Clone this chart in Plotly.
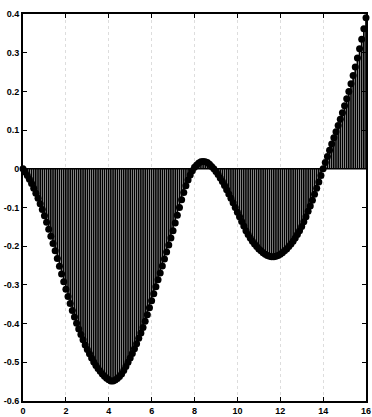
import numpy as np
import plotly.graph_objects as go

# sample positions (step 0.1 from 0 to 16)
x_vals = np.round(np.arange(161) * 0.1, 1)

# values
y_vals = [
    0.000, -0.008, -0.017, -0.027, -0.038, -0.050, -0.063, -0.076, -0.090, -0.105,
    -0.121, -0.138, -0.156, -0.174, -0.193, -0.212, -0.232, -0.252, -0.272, -0.292,
    -0.311, -0.330, -0.348, -0.366, -0.383, -0.399, -0.414, -0.428, -0.442, -0.455,
    -0.467, -0.478, -0.489, -0.499, -0.508, -0.516, -0.523, -0.530, -0.536, -0.541,
    -0.545, -0.548,
    -0.548, -0.546, -0.542, -0.537, -0.530, -0.521, -0.511, -0.500,
    -0.489, -0.477, -0.465, -0.452, -0.438, -0.424, -0.410, -0.394, -0.377, -0.359,
    -0.341, -0.323, -0.305, -0.287, -0.269, -0.251, -0.233, -0.215, -0.197, -0.179,
    -0.160, -0.140, -0.120, -0.100,
    -0.080, -0.061, -0.044, -0.029, -0.016, -0.005,
    0.004, 0.010, 0.015, 0.018, 0.019, 0.018, 0.016, 0.012, 0.006, 0.000,
    -0.007, -0.015, -0.024, -0.033, -0.043, -0.054, -0.065, -0.076, -0.088, -0.100,
    -0.112, -0.124, -0.136, -0.148, -0.160,
    -0.170, -0.179, -0.187, -0.194, -0.201,
    -0.207, -0.212, -0.217, -0.221, -0.224, -0.226, -0.227, -0.227, -0.226, -0.224,
    -0.221, -0.217, -0.212, -0.207, -0.201, -0.194, -0.187, -0.179, -0.170, -0.160,
    -0.149, -0.137, -0.124, -0.110, -0.096, -0.081, -0.066, -0.050, -0.034, -0.017,
    0.000, 0.016, 0.032, 0.048, 0.064, 0.080, 0.096, 0.112, 0.128, 0.145,
    0.163, 0.181, 0.200, 0.220, 0.241, 0.263, 0.286, 0.310, 0.335, 0.362,
    0.390,
]

x_ticks = [0, 2, 4, 6, 8, 10, 12, 14, 16]
x_tick_text = ["0", "2", "4", "6", "8", "10", "12", "14", "16"]
y_ticks = [0.4, 0.3, 0.2, 0.1, 0, -0.1, -0.2, -0.3, -0.4, -0.5, -0.6]
y_tick_text = ["0.4", "0.3", "0.2", "0.1", "0", "-0.1", "-0.2", "-0.3", "-0.4", "-0.5", "-0.6"]

# stems
sx, sy = [], []
for xv, yv in zip(x_vals, y_vals):
    sx += [xv, xv, None]
    sy += [0, yv, None]

fig = go.Figure()
fig.add_trace(go.Scatter(x=sx, y=sy, mode="lines",
                         line=dict(color="black", width=1.7), hoverinfo="skip"))
# baseline
fig.add_trace(go.Scatter(x=[x_vals[0], x_vals[-1]], y=[0, 0], mode="lines",
                         line=dict(color="black", width=1.5), hoverinfo="skip"))
# markers
fig.add_trace(go.Scatter(x=x_vals, y=y_vals, mode="markers",
                         marker=dict(color="black", size=7, line=dict(width=0)),
                         cliponaxis=False))

axis_common = dict(showline=True, linecolor="black", linewidth=2, mirror="ticks",
                   ticks="inside", ticklen=4, tickwidth=1, tickcolor="black",
                   zeroline=False, automargin=False,
                   tickfont=dict(family="Liberation Sans", size=9, color="black",
                                 weight="bold"))

fig.update_xaxes(range=[0, 16], tickvals=x_ticks, ticktext=x_tick_text,
                 showgrid=True, gridcolor="#dddddd", griddash="dot", gridwidth=1,
                 **axis_common)
fig.update_yaxes(range=[-0.6, 0.4], tickvals=y_ticks, ticktext=y_tick_text,
                 showgrid=False, **axis_common)

fig.update_layout(width=372, height=417, showlegend=False,
                  plot_bgcolor="white", paper_bgcolor="white",
                  margin=dict(l=23, r=6, t=14, b=16))

fig.write_html("out.html", config={"displayModeBar": False},
               post_script="document.body.style.margin='0';document.body.style.overflow='hidden';")
